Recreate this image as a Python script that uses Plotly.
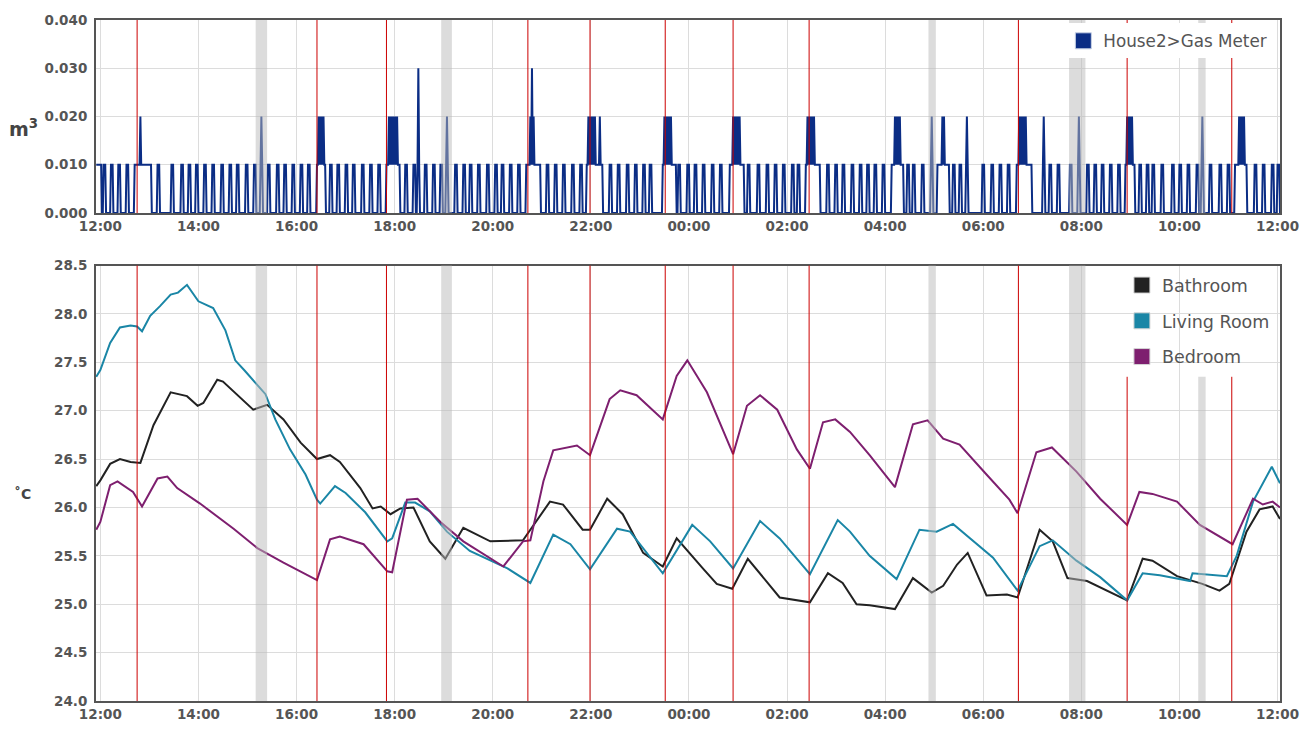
import numpy as np
import pandas as pd
import plotly.graph_objects as go
from plotly.subplots import make_subplots

START = pd.Timestamp("2018-06-09 12:00")

# ---------------- gas meter (m3 per minute), minutes after 12:00 ----------------
gas_idle_pulses = [4, 13, 22, 32, 70, 87, 99, 108, 117, 127, 137, 148, 158, 167, 178, 188,
                   196, 205, 216, 225, 235, 245, 254, 281, 290, 300, 309, 320, 330, 340,
                   373, 383, 388, 397, 407, 416, 423, 434, 444, 452, 462, 473, 483, 491,
                   501, 511, 546, 556, 566, 577, 587, 623, 633, 644, 654, 664, 672, 707,
                   718, 727, 737, 748, 758, 792, 804, 815, 825, 835, 846, 853, 889, 899,
                   908, 919, 929, 938, 947, 957, 987, 994, 1005, 1016, 1043, 1051, 1059,
                   1079, 1090, 1100, 1110, 1153, 1161, 1171, 1186, 1196, 1207, 1216, 1225,
                   1235, 1245, 1271, 1280, 1287, 1298, 1311, 1320, 1330, 1341, 1347, 1357,
                   1369, 1379, 1412, 1422, 1433, 1440]
gas_burns = [(-5, 1), (42, 62), (265, 275), (350, 366), (521, 538), (595, 614),
             (688, 704), (770, 787), (863, 880), (968, 982), (1024, 1038),
             (1121, 1139), (1254, 1265), (1388, 1402)]
gas_peaks = [(49, 0.02), (197, 0.02), (267, 0.02), (269, 0.02), (271, 0.02), (273, 0.02),
             (353, 0.02), (355, 0.02), (357, 0.02), (359, 0.02), (361, 0.02), (363, 0.02),
             (389, 0.03), (424, 0.02), (526, 0.02), (528, 0.03), (530, 0.02),
             (597, 0.02), (599, 0.02), (601, 0.02), (603, 0.02), (605, 0.02), (611, 0.02),
             (690, 0.02), (692, 0.02), (694, 0.02), (696, 0.02), (698, 0.02),
             (774, 0.02), (776, 0.02), (778, 0.02), (780, 0.02), (782, 0.02),
             (865, 0.02), (867, 0.02), (869, 0.02), (871, 0.02), (873, 0.02),
             (972, 0.02), (974, 0.02), (976, 0.02), (978, 0.02), (1017, 0.02),
             (1030, 0.02), (1032, 0.02), (1060, 0.02),
             (1124, 0.02), (1126, 0.02), (1128, 0.02), (1130, 0.02), (1132, 0.02),
             (1154, 0.02), (1197, 0.02), (1256, 0.02), (1258, 0.02), (1260, 0.02),
             (1262, 0.02), (1348, 0.02), (1393, 0.02), (1395, 0.02), (1397, 0.02),
             (1399, 0.02)]

# ---------------- room temperatures (deg C), minutes after 12:00 ----------------
bath_min = [-5, 0, 12, 24, 37, 49, 65, 86, 106, 119, 126, 143, 150, 163, 187, 204, 224, 245,
            265, 281, 293, 318, 333, 343, 355, 367, 383, 403, 422, 444, 477, 517, 550, 566,
            590, 599, 620, 639, 664, 688, 705, 737, 754, 773, 792, 831, 868, 890, 908, 925,
            941, 972, 994, 1017, 1031, 1048, 1061, 1084, 1109, 1122, 1149, 1165, 1183, 1207,
            1256, 1275, 1287, 1317, 1348, 1369, 1381, 1402, 1418, 1434, 1443]
bath_temp = [26.22, 26.28, 26.45, 26.5, 26.47, 26.46, 26.85, 27.19, 27.15, 27.05, 27.08,
             27.32, 27.3, 27.2, 27.01, 27.06, 26.91, 26.67, 26.5, 26.54, 26.47, 26.2, 25.99,
             26.01, 25.93, 25.99, 26.0, 25.65, 25.47, 25.79, 25.65, 25.66, 26.06, 26.03,
             25.77, 25.77, 26.09, 25.93, 25.53, 25.39, 25.68, 25.37, 25.21, 25.16, 25.47,
             25.07, 25.02, 25.32, 25.22, 25.0, 24.99, 24.95, 25.27, 25.12, 25.19, 25.41,
             25.53, 25.09, 25.1, 25.07, 25.77, 25.65, 25.27, 25.24, 25.04, 25.47, 25.45,
             25.29, 25.21, 25.14, 25.21, 25.75, 25.98, 26.01, 25.88]

living_min = [-5, 0, 12, 24, 37, 45, 51, 61, 73, 86, 95, 106, 120, 138, 153, 165, 177, 189,
              202, 214, 232, 251, 265, 269, 287, 300, 324, 351, 357, 373, 385, 403, 424,
              452, 498, 526, 554, 575, 599, 632, 648, 688, 724, 746, 774, 807, 831, 868,
              902, 917, 941, 974, 1002, 1023, 1043, 1092, 1122, 1149, 1165, 1194, 1223,
              1256, 1275, 1296, 1333, 1336, 1378, 1390, 1410, 1433, 1443]
living_temp = [27.35, 27.42, 27.7, 27.86, 27.88, 27.87, 27.82, 27.98, 28.08, 28.2, 28.22,
               28.3, 28.13, 28.06, 27.83, 27.52, 27.41, 27.29, 27.17, 26.91, 26.6, 26.34,
               26.08, 26.04, 26.22, 26.15, 25.95, 25.65, 25.68, 26.05, 26.05, 25.96, 25.75,
               25.55, 25.37, 25.22, 25.72, 25.62, 25.36, 25.78, 25.75, 25.32, 25.82, 25.65,
               25.37, 25.86, 25.68, 25.31, 25.87, 25.75, 25.5, 25.26, 25.77, 25.75, 25.83,
               25.48, 25.14, 25.6, 25.66, 25.45, 25.28, 25.04, 25.32, 25.3, 25.24, 25.32,
               25.29, 25.5, 26.06, 26.42, 26.25]

bed_min = [-5, 0, 12, 21, 40, 51, 70, 82, 94, 122, 163, 192, 224, 245, 265, 281, 293, 322,
           351, 357, 375, 388, 416, 444, 493, 517, 526, 542, 554, 583, 599, 623, 636, 656,
           688, 705, 718, 742, 774, 791, 807, 828, 852, 868, 884, 899, 917, 941, 972, 994,
           1012, 1031, 1051, 1084, 1112, 1122, 1145, 1164, 1194, 1223, 1256, 1271, 1287,
           1317, 1345, 1385, 1410, 1422, 1434, 1443]
bed_temp = [25.77, 25.85, 26.23, 26.27, 26.16, 26.01, 26.3, 26.32, 26.2, 26.04, 25.78, 25.58,
            25.43, 25.34, 25.25, 25.67, 25.7, 25.62, 25.34, 25.33, 26.08, 26.09, 25.85, 25.65,
            25.39, 25.65, 25.66, 26.27, 26.59, 26.64, 26.54, 27.12, 27.21, 27.16, 26.91,
            27.36, 27.52, 27.19, 26.55, 27.05, 27.16, 27.01, 26.6, 26.4, 26.88, 26.91, 26.78,
            26.54, 26.21, 26.86, 26.9, 26.71, 26.65, 26.34, 26.08, 25.94, 26.57, 26.62,
            26.37, 26.09, 25.82, 26.16, 26.14, 26.06, 25.82, 25.62, 26.09, 26.03, 26.06, 26.0]

# heating switch-on marks and shaded periods (minutes after 12:00)
heating_marks = [45, 265, 350, 523, 599, 691, 774, 867, 1123, 1256, 1384]
shaded_periods = [(190, 204), (417, 430), (1013, 1022), (1185, 1205), (1343, 1352)]

# ---------------- styling ----------------
GAS_COLOR = "#0b2d85"
COLORS = {"Bathroom": "#222222", "Living Room": "#1a86a6", "Bedroom": "#7e1f6f"}
MARK_COLOR = "#cc0000"
BAND_COLOR = "rgba(185,185,185,0.5)"
AXIS_COLOR = "#555555"
GRID_COLOR = "#dcdcdc"
TICK_FONT = "DejaVu Sans"
TEXT_FONT = "DejaVu Sans"
LEGEND2_FROM = 1230      # marks right of this sit under the room legend
LEGEND2_FLOOR = 27.35    # ...so they stop below it


def at(minutes):
    return START + pd.to_timedelta(np.asarray(minutes, dtype=float), unit="min")


# per-minute gas readings built from the pulse lists
gas_minutes = np.arange(-5, 1444)
gas_values = np.zeros(len(gas_minutes))
for t in gas_idle_pulses:
    gas_values[(gas_minutes >= t) & (gas_minutes <= t + 2)] = 0.01
for s, e in gas_burns:
    gas_values[(gas_minutes >= s) & (gas_minutes <= e)] = 0.01
for t, v in gas_peaks:
    gas_values[gas_minutes == t] = v

fig = make_subplots(rows=2, cols=1, shared_xaxes=False)

fig.add_trace(go.Scatter(x=at(gas_minutes), y=gas_values, mode="lines",
                         line=dict(color=GAS_COLOR, width=2), showlegend=False,
                         hoverinfo="skip"), row=1, col=1)
fig.add_trace(go.Scatter(x=[None], y=[None], mode="markers", name="House2>Gas Meter",
                         marker=dict(symbol="square", size=17, color=GAS_COLOR,
                                     line=dict(color="#c9d3e6", width=1)),
                         legend="legend"), row=1, col=1)

rooms = [("Bathroom", bath_min, bath_temp),
         ("Living Room", living_min, living_temp),
         ("Bedroom", bed_min, bed_temp)]
for name, mins, temps in rooms:
    fig.add_trace(go.Scatter(x=at(mins), y=temps, mode="lines", name=name,
                             line=dict(color=COLORS[name], width=2), showlegend=False),
                  row=2, col=1)
for name, _, _ in rooms:
    fig.add_trace(go.Scatter(x=[None], y=[None], mode="markers", name=name,
                             legendgroup=name, legend="legend2",
                             marker=dict(symbol="square", size=17, color=COLORS[name],
                                         line=dict(color="#d6d6d6", width=1))),
                  row=2, col=1)

shapes = []
for s, e in shaded_periods:
    x0, x1 = START + pd.Timedelta(minutes=s), START + pd.Timedelta(minutes=e)
    shapes.append(dict(type="rect", xref="x", yref="y domain", x0=x0, x1=x1, y0=0, y1=1,
                       fillcolor=BAND_COLOR, line=dict(width=0), layer="above"))
    if s >= LEGEND2_FROM:
        shapes.append(dict(type="rect", xref="x2", yref="y2", x0=x0, x1=x1, y0=24,
                           y1=LEGEND2_FLOOR, fillcolor=BAND_COLOR, line=dict(width=0),
                           layer="above"))
    else:
        shapes.append(dict(type="rect", xref="x2", yref="y2 domain", x0=x0, x1=x1, y0=0,
                           y1=1, fillcolor=BAND_COLOR, line=dict(width=0), layer="above"))
for m in heating_marks:
    xm = START + pd.Timedelta(minutes=m)
    shapes.append(dict(type="line", xref="x", yref="y domain", x0=xm, x1=xm, y0=0, y1=1,
                       line=dict(color=MARK_COLOR, width=1), layer="above"))
    if m >= LEGEND2_FROM:
        shapes.append(dict(type="line", xref="x2", yref="y2", x0=xm, x1=xm, y0=24,
                           y1=LEGEND2_FLOOR, line=dict(color=MARK_COLOR, width=1),
                           layer="above"))
    else:
        shapes.append(dict(type="line", xref="x2", yref="y2 domain", x0=xm, x1=xm, y0=0,
                           y1=1, line=dict(color=MARK_COLOR, width=1), layer="above"))

tick_font = dict(family=TICK_FONT, size=13.5, color=AXIS_COLOR, weight="bold")
x_range = [START - pd.Timedelta(minutes=5.3), START + pd.Timedelta(minutes=1443)]
xaxis_style = dict(type="date", range=x_range, tickformat="%H:%M", dtick=2 * 3600 * 1000,
                   tick0=START, showgrid=True, gridcolor=GRID_COLOR, gridwidth=1,
                   showline=True, mirror=True, linecolor=AXIS_COLOR, linewidth=2,
                   ticks="", tickfont=tick_font, zeroline=False)
yaxis_style = dict(showgrid=True, gridcolor=GRID_COLOR, gridwidth=1, showline=True,
                   mirror=True, linecolor=AXIS_COLOR, linewidth=2, ticks="",
                   tickfont=tick_font, zeroline=False, ticklabelstandoff=4)

fig.update_layout(
    width=1311, height=734,
    margin=dict(l=96, r=30, t=13, b=33),
    paper_bgcolor="white", plot_bgcolor="white",
    xaxis=dict(domain=[0, 1], **xaxis_style),
    xaxis2=dict(domain=[0, 1], **xaxis_style),
    yaxis=dict(domain=[0.7166, 1], range=[0, 0.04], dtick=0.01, tickformat=".3f",
               **yaxis_style),
    yaxis2=dict(domain=[0, 0.6395], range=[24, 28.5], dtick=0.5, tickformat=".1f",
                **yaxis_style),
    shapes=shapes,
    legend=dict(x=0.817, xanchor="left", y=0.995, yanchor="top", bgcolor="white",
                font=dict(family=TEXT_FONT, size=16.8, color=AXIS_COLOR), borderwidth=0),
    legend2=dict(x=0.8665, xanchor="left", y=0.637, yanchor="top",
                 bgcolor="rgba(0,0,0,0)", traceorder="grouped", tracegroupgap=10,
                 font=dict(family=TEXT_FONT, size=17.5, color=AXIS_COLOR), borderwidth=0),
    annotations=[
        dict(text="m<sup>3</sup>", xref="paper", yref="paper", x=-0.061, y=0.842,
             xanchor="center", yanchor="middle", showarrow=False,
             font=dict(family=TEXT_FONT, size=19, color="#444", weight="bold")),
        dict(text="˚C", xref="paper", yref="paper", x=-0.0625, y=0.304,
             xanchor="center", yanchor="middle", showarrow=False,
             font=dict(family=TEXT_FONT, size=14, color="#444", weight="bold")),
    ],
    hovermode=False,
)

fig.write_html("out.html")
